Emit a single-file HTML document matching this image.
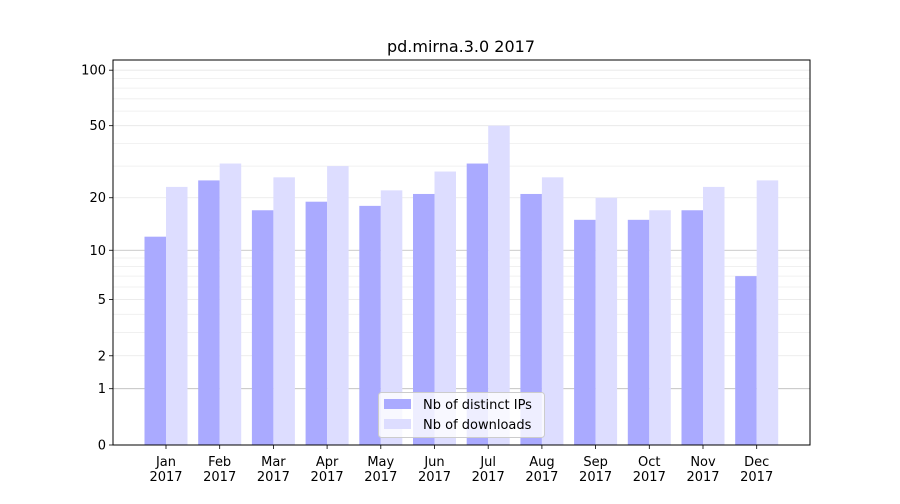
<!DOCTYPE html>
<html><head><meta charset="utf-8"><style>
body{margin:0;background:#fff;font-family:"DejaVu Sans","Liberation Sans",sans-serif;}
svg text{font-family:"DejaVu Sans","Liberation Sans",sans-serif;}
</style></head><body>
<svg id="chart" width="900" height="500" xmlns="http://www.w3.org/2000/svg"></svg>
<script>
const months=["Jan","Feb","Mar","Apr","May","Jun","Jul","Aug","Sep","Oct","Nov","Dec"];
const ips=[12,25,17,19,18,21,31,21,15,15,17,7];
const downloads=[23,31,26,30,22,28,50,26,20,17,23,25];
const majorTicks=[0,1,2,5,10,20,50,100];
const minorTicks=[3,4,6,7,8,9,30,40,60,70,80,90];
const NS="http://www.w3.org/2000/svg";
const svg=document.getElementById('chart');
const L=113,R=810,T=60,B=445;
function y(v){return B-187*Math.log10(v+1);}
function xc(i){return 166+i*53.7;}
function mk(tag,attrs,parent){const e=document.createElementNS(NS,tag);for(const k in attrs)e.setAttribute(k,attrs[k]);(parent||svg).appendChild(e);return e;}
minorTicks.forEach(v=>{const l=mk('line',{x1:L,x2:R,y1:y(v),y2:y(v),stroke:'#eee','stroke-width':0.8});

});
majorTicks.forEach(v=>{const l=mk('line',{x1:L,x2:R,y1:y(v),y2:y(v),stroke:(v===1||v===10)?'#bbb':'#e6e6e6','stroke-width':0.8});


const t=mk('line',{x1:L-4,x2:L,y1:y(v),y2:y(v),stroke:'#000','stroke-width':0.8});


const tx=mk('text',{x:L-7,y:y(v)+4.5,'text-anchor':'end','font-size':13});tx.textContent=v;

});
const bw=21.5;
months.forEach((m,i)=>{
const c=xc(i);
const b1=mk('rect',{x:c-bw,y:y(ips[i]),width:bw,height:B-y(ips[i]),fill:'#aaaaff'});


const b2=mk('rect',{x:c,y:y(downloads[i]),width:bw,height:B-y(downloads[i]),fill:'#ddddff'});


const t=mk('line',{x1:c,x2:c,y1:B,y2:B+4,stroke:'#000','stroke-width':0.8});


const tx=mk('text',{x:c,y:B+21,'text-anchor':'middle','font-size':13});tx.textContent=m;


const ty=mk('text',{x:c,y:B+36,'text-anchor':'middle','font-size':13});ty.textContent='2017';


});
const ax=mk('rect',{x:L,y:T,width:R-L,height:B-T,fill:'none',stroke:'#000','stroke-width':1});


const title=mk('text',{x:461,y:52,'text-anchor':'middle','font-size':16});title.textContent='pd.mirna.3.0 2017';


const lg=mk('g',{});


mk('rect',{x:378.5,y:392.5,width:166,height:45,rx:3,fill:'rgba(255,255,255,0.8)',stroke:'#ccc'},lg);
mk('rect',{x:384,y:399,width:27,height:10,fill:'#aaaaff'},lg);
mk('rect',{x:384,y:419,width:27,height:10,fill:'#ddddff'},lg);
const l1=mk('text',{x:423,y:409,'font-size':13},lg);l1.textContent='Nb of distinct IPs';


const l2=mk('text',{x:423,y:429,'font-size':13},lg);l2.textContent='Nb of downloads';


</script>
</body></html>
